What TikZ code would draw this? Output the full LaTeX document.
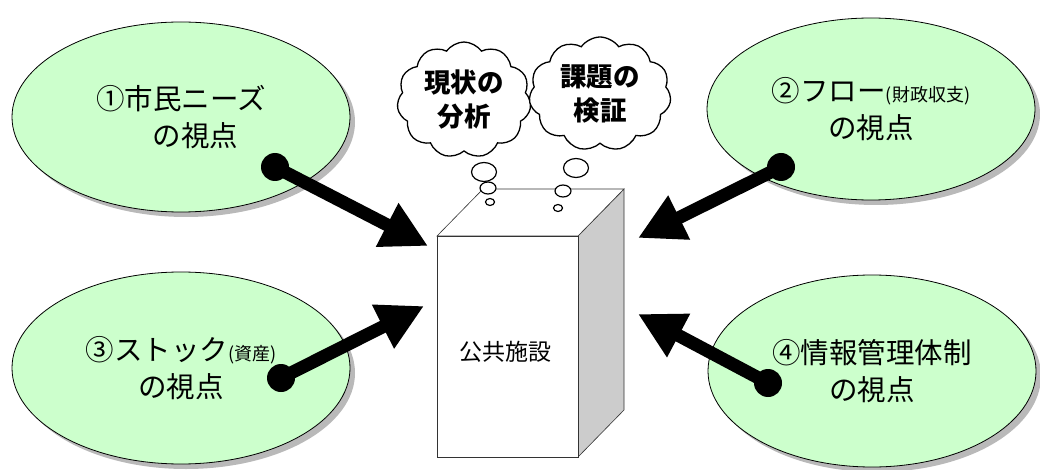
\documentclass[tikz,border=0pt]{standalone}
\usepackage{fontspec}
\setmainfont{Noto Sans CJK JP}
\usetikzlibrary{arrows.meta,shapes.geometric,shapes.symbols,shadows}
\definecolor{ellgreen}{HTML}{CCFFCC}
\definecolor{sidegray}{HTML}{CCCCCC}
\begin{document}
\begin{tikzpicture}[x=1pt,y=-1pt,
  view/.style={ellipse, draw=black, line width=0.8pt, fill=ellgreen, align=center,
    inner sep=0pt, font=\fontsize{28.5}{37}\selectfont,
    drop shadow={shadow xshift=5pt, shadow yshift=-5pt, fill=gray!55, opacity=1}},
  thought/.style={cloud, cloud puffs=11, cloud puff arc=110, aspect=1.15, draw=black,
    line width=1.3pt, fill=white, align=center, inner sep=0pt,
    font=\fontsize{26.5}{34}\selectfont\bfseries},
  bubble/.style={ellipse, draw=black, line width=1.2pt, fill=white, inner sep=0pt},
  dotend/.style={fill=black},
  bigarrow/.style={line width=13pt, -{Triangle[width=46pt,length=46pt]}},
  face/.style={draw=black!80, line width=0.6pt}
]
\useasboundingbox (0,0) rectangle (1040,470);

% perspective ellipses
\node[view, minimum width=338pt, minimum height=190pt] (e1) at (181,117)
  {①市民ニーズ\\\hspace*{1em}の視点};
\node[view, minimum width=328pt, minimum height=182pt] (e2) at (871,109)
  {②フロー{\fontsize{18}{20}\selectfont(財政収支)}\\の視点};
\node[view, minimum width=338pt, minimum height=192pt] (e3) at (181,368)
  {③ストック{\fontsize{18}{20}\selectfont(資産)}\\の視点};
\node[view, minimum width=328pt, minimum height=192pt] (e4) at (872,371)
  {④情報管理体制\\の視点};

% building
\coordinate (fTL) at (437,236);
\coordinate (fTR) at (578,236);
\coordinate (fBL) at (437,457);
\coordinate (fBR) at (578,457);
\coordinate (bTL) at (483,189);
\coordinate (bTR) at (624,189);
\coordinate (bBR) at (624,410);
\filldraw[face, fill=sidegray] (fTR) -- (bTR) -- (bBR) -- (fBR) -- cycle;
\filldraw[face, fill=white] (fTL) -- (bTL) -- (bTR) -- (fTR) -- cycle;
\filldraw[face, fill=white] (fTL) rectangle (fBR);
\node[font=\fontsize{23}{26}\selectfont] (bld) at (505,352) {公共施設};

% thought clouds
\node[thought, minimum width=134pt, minimum height=116pt] (c1) at (464,100) {現状の\\分析};
\node[thought, minimum width=142pt, minimum height=114pt] (c2) at (600,94) {課題の\\検証};
\node[bubble, minimum width=25pt, minimum height=19pt] (b11) at (484,172) {};
\node[bubble, minimum width=16pt, minimum height=12pt] (b12) at (488,188) {};
\node[bubble, minimum width=9pt, minimum height=7pt] (b13) at (490,202) {};
\node[bubble, minimum width=25pt, minimum height=19pt] (b21) at (576,168) {};
\node[bubble, minimum width=16pt, minimum height=12pt] (b22) at (563,191) {};
\node[bubble, minimum width=9pt, minimum height=7pt] (b23) at (558,208) {};

% arrows
\coordinate (d1) at (275,167);  \coordinate (t1) at (428,246);
\coordinate (d2) at (781,167);  \coordinate (t2) at (638,238);
\coordinate (d3) at (281,378);  \coordinate (t3) at (424,306);
\coordinate (d4) at (768,383);  \coordinate (t4) at (638,314);
\foreach \i in {1,2,3,4} {
  \draw[bigarrow] (d\i) -- (t\i);
  \fill[dotend] (d\i) circle (14pt);
}
\end{tikzpicture}
\end{document}
